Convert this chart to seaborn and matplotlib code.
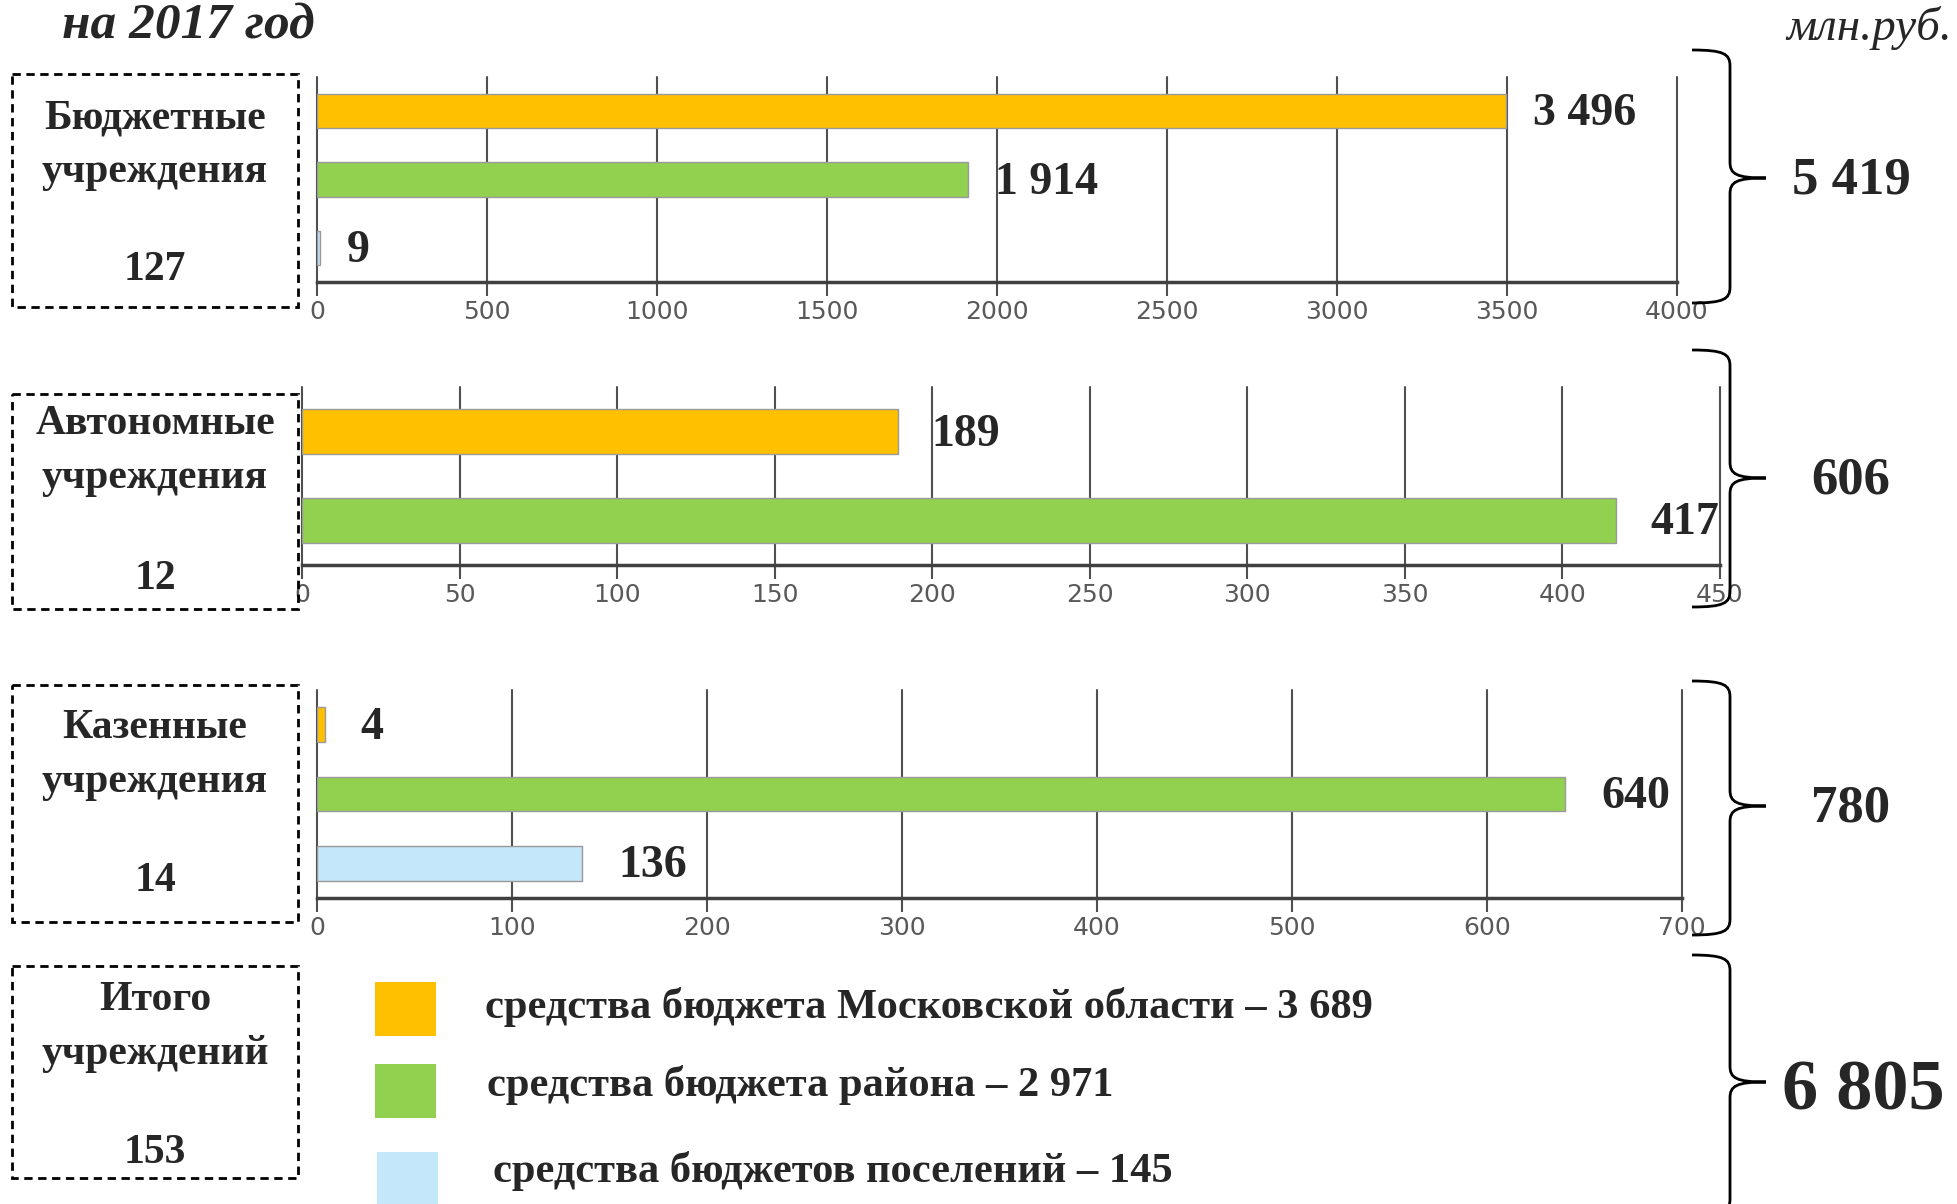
import pandas as pd
import seaborn as sns
import matplotlib.pyplot as plt
from matplotlib.patches import Rectangle, PathPatch
from matplotlib.path import Path

# --- ДАННЫЕ (млн.руб., 2017 год) ---
SOURCES = ["средства бюджета Московской области",
           "средства бюджета района",
           "средства бюджетов поселений"]
COLORS = ["#FFC000", "#92D050", "#C4E7FA"]

GROUP_NAMES = ["Бюджетные\nучреждения", "Автономные\nучреждения", "Казенные\nучреждения"]
GROUP_COUNTS = [127, 12, 14]

BUDGET_VALUES = [3496, 1914, 9]
AUTONOMOUS_VALUES = [189, 417]
STATE_VALUES = [4, 640, 136]

AXIS_MAX = [4000, 450, 700]
AXIS_STEP = [500, 50, 100]

# --- ОФОРМЛЕНИЕ ---
W, H = 1957, 1204
SERIF = ["Liberation Serif", "DejaVu Serif"]
NARROW = ["Liberation Sans Narrow", "DejaVu Sans"]
GRID = "#505050"

sns.set_theme(style="white")
plt.rcParams["font.family"] = SERIF


def fmt(v):
    return f"{v:,}".replace(",", " ")


def brace(ax, x, top, bottom, mid, hook=38, tip=36, r=16):
    verts = [(x - hook, top), (x - 6, top), (x, top + 4), (x, top + r),
             (x, mid - r),
             (x, mid - 4), (x + 6, mid), (x + tip, mid),
             (x + 6, mid), (x, mid + 4), (x, mid + r),
             (x, bottom - r),
             (x, bottom - 4), (x - 6, bottom), (x - hook, bottom)]
    C, L = Path.CURVE4, Path.LINETO
    codes = [Path.MOVETO, C, C, C, L, C, C, C, C, C, C, L, C, C, C]
    ax.add_patch(PathPatch(Path(verts, codes), fill=False, lw=2, color="black",
                           clip_on=False))


def bar_panel(fig, rect, values, vmax, step, offset):
    ax = fig.add_axes(rect)
    ax.set_facecolor("none")
    cats = SOURCES[:len(values)]
    df = pd.DataFrame({"source": cats, "value": values})
    sns.barplot(data=df, x="value", y="source", hue="source", order=cats,
                hue_order=cats, palette=COLORS[:len(values)], orient="h",
                width=0.5, saturation=1, edgecolor="#9a9a9a", linewidth=1,
                legend=False, ax=ax)
    ax.set_xlim(0, vmax)
    ax.set_ylim(len(values) - 0.5, -0.5)
    ticks = list(range(0, vmax + 1, step))
    ax.set_xticks(ticks, [str(t) for t in ticks], fontfamily=NARROW,
                  fontsize=18, color="#595959")
    ax.tick_params(axis="x", bottom=True, length=10, width=1.5, color=GRID, pad=3)
    ax.set_yticks([])
    ax.set_xlabel("")
    ax.set_ylabel("")
    ax.grid(axis="x", color=GRID, lw=1.5)
    for gl in ax.get_xgridlines():
        gl.set_clip_on(False)
    ax.set_axisbelow(True)
    for s in ["top", "right", "left"]:
        ax.spines[s].set_visible(False)
    ax.spines["bottom"].set_color("#404040")
    ax.spines["bottom"].set_linewidth(2.5)
    for i, v in enumerate(values):
        ax.annotate(fmt(v), (v, i), xytext=(offset, -3), textcoords="offset pixels",
                    va="center", ha="left", fontsize=33, fontweight="bold")
    return ax


fig = plt.figure(figsize=(W / 100, H / 100), dpi=100)

panels = [
    (BUDGET_VALUES, [317 / W, 1 - 282 / H, 1360 / W, 205 / H], 27),
    (AUTONOMOUS_VALUES, [302 / W, 1 - 565 / H, 1418 / W, 178 / H], 34),
    (STATE_VALUES, [317 / W, 1 - 898 / H, 1365 / W, 208 / H], 36),
]
for k, (vals, rect, off) in enumerate(panels):
    bar_panel(fig, rect, vals, AXIS_MAX[k], AXIS_STEP[k], off)

# --- Наложение: рамки, скобки, легенда ---
ov = fig.add_axes([0, 0, 1, 1])
ov.set_xlim(0, W)
ov.set_ylim(H, 0)
ov.axis("off")

ov.text(62, 38, "на 2017 год", fontsize=37, fontweight="bold", style="italic",
        va="baseline", ha="left")
ov.text(1952, 28, "млн.руб.", fontsize=34, style="italic", va="center", ha="right")

group_totals = [sum(BUDGET_VALUES), sum(AUTONOMOUS_VALUES), sum(STATE_VALUES)]
grand_total = sum(group_totals)

# рамка (верх, низ), центр названия, центр числа
boxes = [(74, 307, 145, 270), (394, 609, 451, 579),
         (685, 922, 755, 881), (966, 1178, 1027, 1153)]
names = GROUP_NAMES + ["Итого\nучреждений"]
counts = GROUP_COUNTS + [sum(GROUP_COUNTS)]
for (top, bottom, name_y, cnt_y), name, cnt in zip(boxes, names, counts):
    ov.add_patch(Rectangle((12, top), 286, bottom - top, fill=False, lw=2,
                           ls=(0, (3, 2)), color="black"))
    ov.text(155, name_y, name, ha="center", va="center", fontsize=30,
            fontweight="bold", linespacing=1.52)
    ov.text(155, cnt_y, str(cnt), ha="center", va="center", fontsize=30,
            fontweight="bold")

braces = [(50, 303, 178), (350, 607, 478), (681, 935, 806), (955, 1215, 1082)]
for (top, bottom, mid), tot in zip(braces[:3], group_totals):
    brace(ov, 1730, top, bottom, mid)
    ov.text(1851, mid + 2, fmt(tot), ha="center", va="center", fontsize=38,
            fontweight="bold")
top, bottom, mid = braces[3]
brace(ov, 1730, top, bottom, mid)
ov.text(1863, mid + 10, fmt(grand_total), ha="center", va="center", fontsize=52,
        fontweight="bold")

source_totals = [BUDGET_VALUES[i] + STATE_VALUES[i] +
                 (AUTONOMOUS_VALUES[i] if i < len(AUTONOMOUS_VALUES) else 0)
                 for i in range(len(SOURCES))]
legend_sq = [(375, 1009), (375, 1091), (377, 1179)]
legend_txt = [(485, 1007), (487, 1085), (493, 1171)]
for name, color, tot, (sx, sy), (tx, ty) in zip(SOURCES, COLORS, source_totals,
                                                legend_sq, legend_txt):
    ov.add_patch(Rectangle((sx, sy - 27), 61, 54, color=color, lw=0))
    ov.text(tx, ty, f"{name} – {fmt(tot)}", ha="left", va="center",
            fontsize=30.6, fontweight="bold")

fig.savefig("out.png", dpi=100)
